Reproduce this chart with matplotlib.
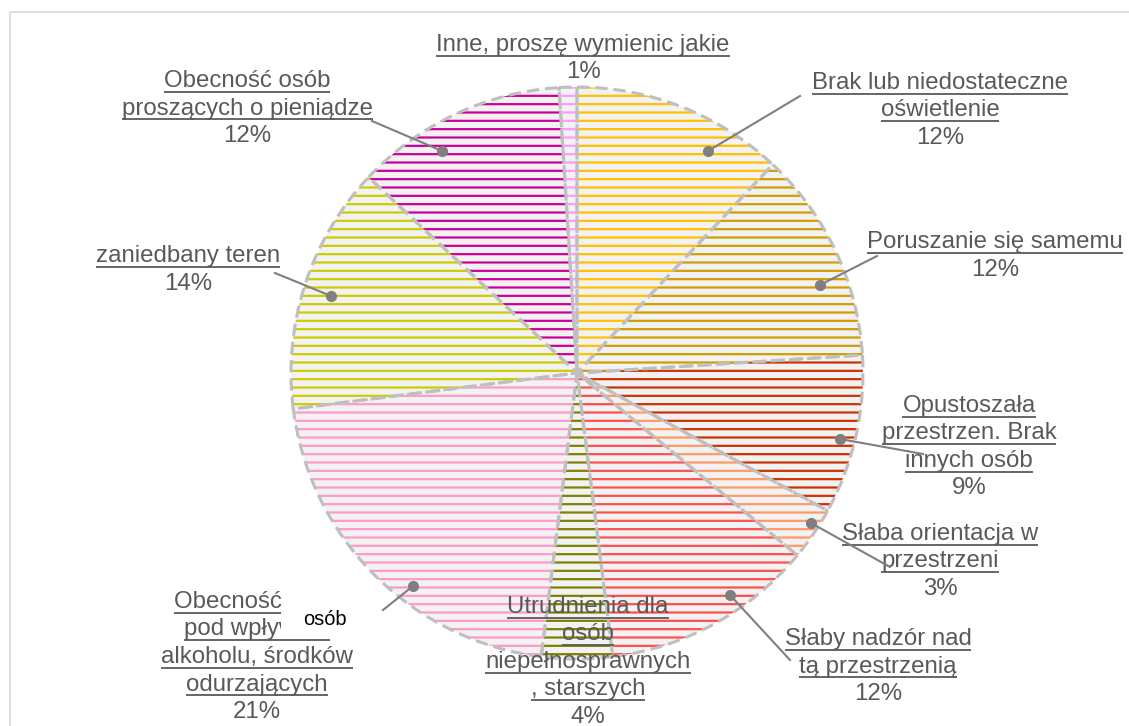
import matplotlib
matplotlib.use('Agg')
import matplotlib.pyplot as plt
from matplotlib.patches import Rectangle

# categories, clockwise from the top
categories = ['Brak lub niedostateczne\noświetlenie',
              'Poruszanie się samemu',
              'Opustoszała\nprzestrzen. Brak\ninnych osób',
              'Słaba orientacja w\nprzestrzeni',
              'Słaby nadzór nad\ntą przestrzenią',
              'Utrudnienia dla\nosób\nniepełnosprawnych\n, starszych',
              'Obecność osób\npod wpływem\nalkoholu, środków\nodurzających',
              'zaniedbany teren',
              'Obecność osób\nproszących o pieniądze',
              'Inne, proszę wymienic jakie']
values = [12, 12, 9, 3, 12, 4, 21, 14, 12, 1]
colors = ['#ffc000', '#d19d00', '#cc3300', '#ff9966', '#ff5050',
          '#808000', '#ff99cc', '#cccc00', '#cc0099', '#ff99ff']

# label layout (pixels, y downwards): centre x, first baseline
label_pos = [(940, 89), (995, 248), (969, 412), (940, 540), (878, 645),
             (588, 613), (257, 608), (188, 262), (247, 87), (583, 51)]
# leader lines: dot inside wedge -> end near label
leaders = [((708, 151), (800, 96)), ((820, 285), (877, 256)),
           ((840, 439), (923, 454)), ((811, 523), (890, 567)),
           ((730, 595), (790, 660)), None,
           ((413, 586), (383, 610)), ((331, 296), (275, 273)),
           ((442, 151), (372, 121)), None]

W, H = 1129, 726
plt.rcParams['hatch.linewidth'] = 1.6
fig = plt.figure(figsize=(W / 100, H / 100), dpi=100)
ax = fig.add_axes([0, 0, 1, 1])

cx, cy, r = 577, 373, 286
wedges, _ = ax.pie(values, startangle=-90, counterclock=True,
                   center=(cx, cy), radius=r,
                   wedgeprops=dict(linewidth=0))
for w, c in zip(wedges, colors):
    w.set_facecolor('#f2f2f2')
    w.set_edgecolor(c)
    w.set_hatch('--')
ax.pie(values, startangle=-90, counterclock=True, center=(cx, cy), radius=r,
       wedgeprops=dict(fill=False, edgecolor='#bfbfbf', linewidth=2.2,
                       linestyle=(0, (4, 2))))

ax.set_xlim(0, W)
ax.set_ylim(H, 0)
ax.axis('off')

ax.add_patch(Rectangle((10, 12), 1300, 900, fill=False, ec='#d9d9d9', lw=1.2))

fs = 24 / (100 / 72)
tcol = '#595959'
texts = []
for name, v, (x, y0) in zip(categories, values, label_pos):
    lines = name.split('\n')
    for i, ln in enumerate(lines):
        t = ax.text(x, y0 + i * 27.5, ln, ha='center', va='baseline',
                    fontsize=fs, color=tcol, family='Liberation Sans', zorder=5)
        texts.append(t)
    ax.text(x, y0 + len(lines) * 27.5, '%d%%' % v, ha='center', va='baseline',
            fontsize=fs, color=tcol, family='Liberation Sans', zorder=5)

for ld in leaders:
    if ld is None:
        continue
    (x0, y0), (x1, y1) = ld
    ax.plot([x0, x1], [y0, y1], color='#7f7f7f', lw=1.5, zorder=6)
    ax.plot(x0, y0, 'o', color='#7f7f7f', ms=7, zorder=6)

# underline every name line
fig.canvas.draw()
rend = fig.canvas.get_renderer()
for t in texts:
    bb = t.get_window_extent(rend)
    x, y = t.get_position()
    ax.plot([bb.x0, bb.x1], [y + 4.5, y + 4.5], color=tcol, lw=1.3, zorder=5,
            solid_capstyle='butt')

# white box covering part of a label, as in the original
ax.add_patch(Rectangle((281, 588), 70, 51, fc='white', ec='none', zorder=7))
ax.text(325, 625, 'osób', ha='center', va='baseline', fontsize=20 / (100 / 72),
        color='black', family='Liberation Sans', zorder=8)

fig.savefig('out.png', dpi=100)
